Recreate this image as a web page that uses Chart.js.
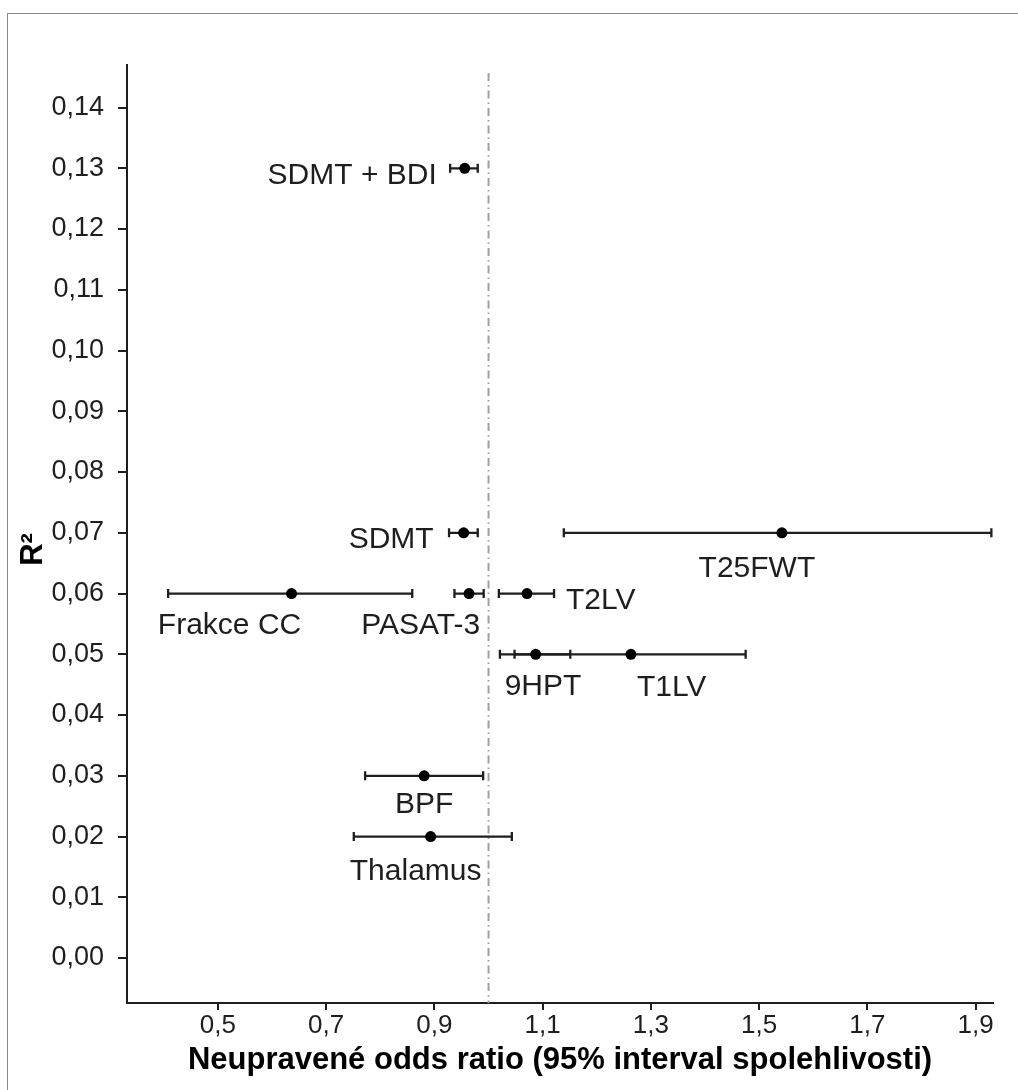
<!DOCTYPE html>
<html lang="cs">
<head>
  <meta charset="UTF-8" />
  <title>R2 vs odds ratio</title>
  <script src="https://cdn.jsdelivr.net/npm/chart.js"></script>
  <style>
    html, body { margin: 0; padding: 0; background: #fff; overflow: hidden; }
    .frame { position: absolute; left: 7px; top: 13px; right: -5px; bottom: -5px;
             border-left: 1px solid #8a8a8a; border-top: 1px solid #8a8a8a; }
    #wrap { position: absolute; left: 0; top: 0; width: 1018px; height: 1090px; }
  </style>
</head>
<body>
  <div class="frame"></div>
  <div id="wrap"><canvas id="chart" width="1018" height="1090"></canvas></div>

  <script>
    // data
    const names  = ['SDMT + BDI', 'SDMT', 'Frakce CC', 'PASAT-3', 'T2LV', '9HPT', 'T1LV', 'T25FWT', 'BPF', 'Thalamus'];
    const oddsRatio = [0.956, 0.954, 0.636, 0.964, 1.071, 1.087, 1.263, 1.542, 0.881, 0.893];
    const ciLow  = [0.929, 0.927, 0.408, 0.937, 1.019, 1.021, 1.048, 1.139, 0.772, 0.751];
    const ciHigh = [0.980, 0.980, 0.859, 0.991, 1.121, 1.151, 1.475, 1.929, 0.990, 1.043];
    const rSquared = [0.13, 0.07, 0.06, 0.06, 0.06, 0.05, 0.05, 0.07, 0.03, 0.02];
    const xTicks = [0.5, 0.7, 0.9, 1.1, 1.3, 1.5, 1.7, 1.9];
    const yTicks = [0, 0.01, 0.02, 0.03, 0.04, 0.05, 0.06, 0.07, 0.08, 0.09, 0.10, 0.11, 0.12, 0.13, 0.14];
    const refOdds = 1.0;

    // where each name sits relative to its point (pixels)
    const labelPlace = [
      { align: 'right',  dx: -28, dy: 16 },
      { align: 'right',  dx: -30, dy: 15 },
      { align: 'center', dx: -62, dy: 40 },
      { align: 'right',  dx: 11,  dy: 40 },
      { align: 'left',   dx: 39,  dy: 15 },
      { align: 'left',   dx: -31, dy: 41 },
      { align: 'left',   dx: 6,   dy: 42 },
      { align: 'center', dx: -25, dy: 44 },
      { align: 'center', dx: 0,   dy: 37 },
      { align: 'center', dx: -15, dy: 43 }
    ];

    const FONT = '"Liberation Sans", Arial, sans-serif';
    const INK = '#1e1e1e';
    const comma = (v, d) => v.toFixed(d).replace('.', ',');

    const forestBits = {
      id: 'forestBits',
      beforeDatasetsDraw(chart) {
        const { ctx, chartArea, scales: { x, y } } = chart;
        ctx.save();
        // reference line at OR = 1
        const rx = x.getPixelForValue(refOdds);
        ctx.strokeStyle = '#a0a0a0';
        ctx.lineWidth = 2;
        ctx.setLineDash([8, 4, 1.5, 4]);
        ctx.beginPath();
        ctx.moveTo(rx, chartArea.top + 8);
        ctx.lineTo(rx, chartArea.bottom);
        ctx.stroke();
        ctx.setLineDash([]);

        // confidence intervals
        ctx.strokeStyle = INK;
        ctx.lineWidth = 2.3;
        names.forEach((n, i) => {
          const yy = y.getPixelForValue(rSquared[i]);
          const x1 = x.getPixelForValue(ciLow[i]);
          const x2 = x.getPixelForValue(ciHigh[i]);
          ctx.beginPath();
          ctx.moveTo(x1, yy); ctx.lineTo(x2, yy);
          ctx.moveTo(x1, yy - 4.5); ctx.lineTo(x1, yy + 4.5);
          ctx.moveTo(x2, yy - 4.5); ctx.lineTo(x2, yy + 4.5);
          ctx.stroke();
        });
        ctx.restore();
      },
      afterDatasetsDraw(chart) {
        const { ctx, scales: { x, y } } = chart;
        ctx.save();
        ctx.fillStyle = INK;
        ctx.font = '30px ' + FONT;
        ctx.textBaseline = 'alphabetic';
        names.forEach((n, i) => {
          const p = labelPlace[i];
          ctx.textAlign = p.align;
          ctx.fillText(n, x.getPixelForValue(oddsRatio[i]) + p.dx, y.getPixelForValue(rSquared[i]) + p.dy);
        });
        ctx.restore();
      }
    };

    new Chart(document.getElementById('chart'), {
      type: 'scatter',
      data: {
        datasets: [{
          data: oddsRatio.map((v, i) => ({ x: v, y: rSquared[i] })),
          pointRadius: 5.5,
          pointBackgroundColor: '#000',
          pointBorderColor: '#000',
          pointBorderWidth: 0
        }]
      },
      plugins: [forestBits],
      options: {
        responsive: false,
        animation: false,
        events: [],
        layout: { padding: { left: 7, top: 65, right: 25, bottom: 0 } },
        plugins: { legend: { display: false }, tooltip: { enabled: false } },
        scales: {
          x: {
            type: 'linear',
            min: 0.332,
            max: 1.932,
            afterBuildTicks: s => { s.ticks = xTicks.map(v => ({ value: v })); },
            afterFit: s => { s.height = 87; },
            grid: { drawOnChartArea: false, drawTicks: true, tickLength: 7, color: INK, lineWidth: 2 },
            border: { color: INK, width: 2 },
            ticks: {
              autoSkip: false, maxRotation: 0, padding: 0, color: INK,
              font: { family: FONT, size: 26 },
              callback: v => comma(v, 1)
            },
            title: {
              display: true,
              text: 'Neupravené odds ratio (95% interval spolehlivosti)',
              color: '#000',
              font: { family: FONT, size: 31, weight: 'bold' },
              padding: { top: 0, bottom: 11 }
            }
          },
          y: {
            type: 'linear',
            min: -0.0074,
            max: 0.147,
            afterBuildTicks: s => { s.ticks = yTicks.map(v => ({ value: v })); },
            afterFit: s => { s.width = 120; },
            grid: { drawOnChartArea: false, drawTicks: true, tickLength: 9, color: INK, lineWidth: 2 },
            border: { color: INK, width: 2 },
            ticks: {
              autoSkip: false, padding: 14, color: INK,
              font: { family: FONT, size: 27 },
              callback: v => comma(v, 2)
            },
            title: {
              display: true,
              text: 'R\u00b2\u2003',
              color: '#000',
              font: { family: FONT, size: 31, weight: 'bold' },
              padding: { top: 8, bottom: 0 }
            }
          }
        }
      }
    });
  </script>
</body>
</html>
